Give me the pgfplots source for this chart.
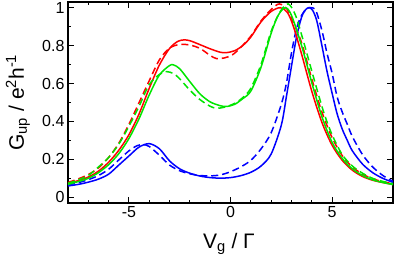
\documentclass[border=0pt]{standalone}
\usepackage{fontspec}
\setmainfont{Liberation Sans}
\usepackage{pgfplots}
\pgfplotsset{compat=1.18}
\definecolor{cred}{RGB}{255,0,0}
\definecolor{cgreen}{RGB}{0,230,0}
\definecolor{cblue}{RGB}{0,0,255}
\begin{document}
\begin{tikzpicture}
\path[use as bounding box] (-68pt,-59pt) rectangle (327pt,203pt);
\begin{axis}[
 scale only axis, width=325pt, height=201pt,
 at={(0,0)}, anchor=south west,
 xmin=-8, xmax=8, ymin=-0.03, ymax=1.03,
 xtick={-5,0,5}, xticklabels={-5,0,5},
 minor xtick={-7,-6,-4,-3,-2,-1,1,2,3,4,6,7},
 ytick={0,0.2,0.4,0.6,0.8,1}, yticklabels={0,0.2,0.4,0.6,0.8,1},
 minor ytick={0.1,0.3,0.5,0.7,0.9},
 tick align=inside,
 major tick length=6pt, minor tick length=3.5pt,
 tick style={line width=0.9pt, black},
 axis line style={line width=1.1pt},
 ticklabel style={font=\fontsize{16}{19}\selectfont},
 label style={font=\fontsize{21}{25}\selectfont},
 xlabel={V\textsubscript{g} / Γ},
 ylabel={G\textsubscript{up} / e\textsuperscript{2}h\textsuperscript{-1}},
 xlabel style={at={(axis description cs:0.495,-0.224)}, anchor=base},
 ylabel style={at={(axis description cs:-0.154,0.5)}, anchor=center},
 every axis plot/.append style={line width=1.5pt, smooth},
 dsh/.style={dash pattern=on 7pt off 4pt},
]
% blue solid
\addplot[cblue] coordinates {(-8,0.060) (-7.5,0.068) (-7,0.080) (-6.5,0.096) (-6,0.122) (-5.5,0.170) (-5,0.218) (-4.5,0.265) (-4.0,0.283) (-3.5,0.256) (-3.0,0.192) (-2.5,0.150) (-2.0,0.127) (-1.5,0.112) (-1.0,0.104) (-0.5,0.101) (0,0.104) (0.5,0.114) (1.0,0.132) (1.5,0.165) (2.0,0.228) (2.5,0.38) (2.75,0.53) (3.0,0.69) (3.25,0.845) (3.5,0.95) (3.7,0.99) (3.88,1.0) (4.05,0.985) (4.25,0.93) (4.5,0.80) (4.75,0.665) (5.0,0.55) (5.25,0.44) (5.5,0.36) (5.75,0.30) (6.0,0.245) (6.5,0.175) (7.0,0.13) (7.5,0.10) (8.0,0.079)};
% blue dashed
\addplot[cblue,dsh] coordinates {(-8,0.065) (-7.5,0.077) (-7,0.093) (-6.5,0.115) (-6,0.148) (-5.5,0.197) (-5,0.245) (-4.6,0.272) (-4.3,0.278) (-4.0,0.268) (-3.5,0.222) (-3.0,0.170) (-2.5,0.140) (-2.0,0.124) (-1.5,0.115) (-1.0,0.113) (-0.5,0.118) (0,0.135) (0.5,0.160) (1.0,0.195) (1.5,0.255) (2.0,0.34) (2.5,0.49) (2.75,0.60) (3.0,0.76) (3.25,0.89) (3.5,0.96) (3.75,0.995) (3.95,1.0) (4.2,0.985) (4.5,0.88) (4.75,0.76) (5.0,0.655) (5.25,0.53) (5.5,0.45) (5.75,0.385) (6.0,0.32) (6.5,0.225) (7.0,0.16) (7.5,0.115) (8.0,0.084)};
% red solid
\addplot[cred] coordinates {(-8,0.072) (-7.5,0.088) (-7,0.107) (-6.5,0.138) (-6,0.185) (-5.5,0.248) (-5,0.33) (-4.5,0.44) (-4.0,0.575) (-3.5,0.698) (-3.0,0.785) (-2.6,0.822) (-2.3,0.830) (-2.0,0.826) (-1.5,0.805) (-1.0,0.783) (-0.5,0.765) (-0.2,0.763) (0.2,0.773) (0.6,0.80) (1.0,0.845) (1.5,0.925) (2.0,0.98) (2.45,1.0) (2.8,0.975) (3.1,0.90) (3.5,0.755) (4.0,0.56) (4.5,0.395) (5.0,0.275) (5.5,0.195) (6.0,0.143) (6.5,0.11) (7.0,0.09) (7.5,0.078) (8.0,0.068)};
% red dashed
\addplot[cred,dsh] coordinates {(-8,0.078) (-7.5,0.097) (-7,0.12) (-6.5,0.155) (-6,0.21) (-5.5,0.285) (-5,0.385) (-4.5,0.50) (-4.0,0.615) (-3.5,0.725) (-3.0,0.787) (-2.5,0.806) (-2.0,0.803) (-1.5,0.785) (-1.0,0.748) (-0.7,0.732) (-0.3,0.735) (0.1,0.752) (0.5,0.79) (1.0,0.85) (1.5,0.93) (2.0,0.99) (2.4,1.02) (2.8,0.99) (3.1,0.92) (3.5,0.815) (4.0,0.625) (4.5,0.45) (5.0,0.315) (5.5,0.22) (6.0,0.16) (6.5,0.122) (7.0,0.098) (7.5,0.082) (8.0,0.072)};
% green solid
\addplot[cgreen] coordinates {(-8,0.068) (-7.5,0.083) (-7,0.10) (-6.5,0.13) (-6,0.172) (-5.5,0.23) (-5,0.31) (-4.5,0.415) (-4.0,0.54) (-3.5,0.645) (-3.0,0.695) (-2.8,0.698) (-2.5,0.678) (-2.0,0.61) (-1.5,0.545) (-1.0,0.503) (-0.5,0.483) (-0.2,0.479) (0.2,0.49) (0.6,0.52) (1.0,0.56) (1.5,0.685) (2.0,0.865) (2.35,0.96) (2.7,1.0) (3.0,0.96) (3.5,0.80) (4.0,0.605) (4.5,0.425) (5.0,0.29) (5.5,0.205) (6.0,0.15) (6.5,0.115) (7.0,0.092) (7.5,0.078) (8.0,0.067)};
% green dashed
\addplot[cgreen,dsh] coordinates {(-8,0.074) (-7.5,0.092) (-7,0.115) (-6.5,0.16) (-6,0.21) (-5.5,0.28) (-5,0.375) (-4.5,0.48) (-4.0,0.595) (-3.5,0.648) (-3.15,0.663) (-2.8,0.652) (-2.5,0.625) (-2.0,0.565) (-1.5,0.515) (-1.0,0.48) (-0.7,0.47) (-0.3,0.475) (0.2,0.495) (0.6,0.525) (1.0,0.575) (1.5,0.70) (2.0,0.875) (2.45,0.98) (2.84,1.02) (3.2,0.96) (3.6,0.82) (4.1,0.628) (4.6,0.445) (5.0,0.33) (5.5,0.225) (6.0,0.165) (6.5,0.127) (7.0,0.10) (7.5,0.084) (8.0,0.072)};
\end{axis}
\end{tikzpicture}
\end{document}
